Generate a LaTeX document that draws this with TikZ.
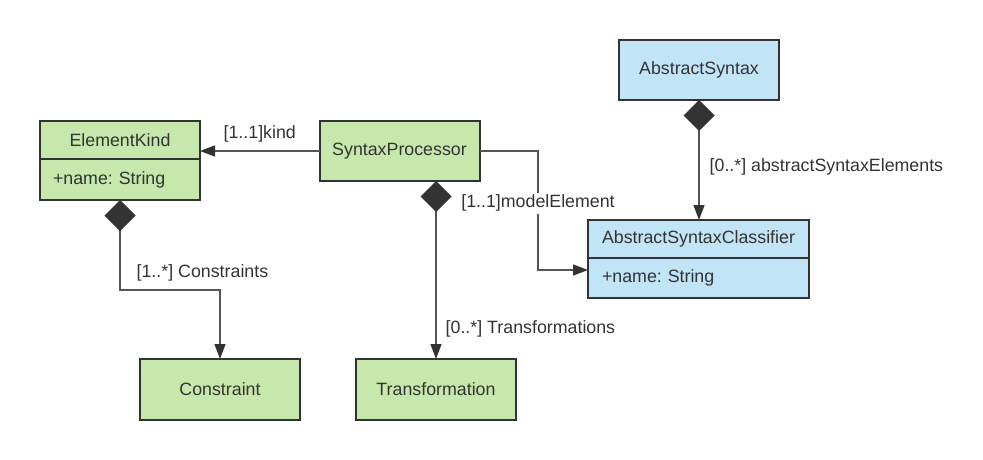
\documentclass[tikz,border=0pt]{standalone}
\usepackage{fontspec}
\setmainfont{Liberation Sans}
\usetikzlibrary{positioning, arrows.meta}

\definecolor{umlgreen}{HTML}{C7E8AC}
\definecolor{umlblue}{HTML}{C1E4F7}
\definecolor{umlline}{HTML}{333333}
\definecolor{umlwire}{HTML}{555555}

\begin{document}
\begin{tikzpicture}[x=1pt,y=-1pt,
  every node/.style={font=\fontsize{17.8}{21}\selectfont\frenchspacing, text=umlline},
  classbox/.style={draw=umlline, line width=2pt, minimum width=160pt, minimum height=60pt, inner sep=0pt, outer sep=0pt},
  headbox/.style={classbox, minimum height=38pt},
  attrbox/.style={classbox, minimum height=40pt, inner xsep=13pt, text width=134pt, align=left},
  assoc/.style={draw=umlwire, line width=1.3pt, -{Triangle[length=15pt,width=11pt,fill=umlline,color=umlline]}},
  compo/.style={draw=umlwire, line width=1.3pt, {Diamond[length=31pt,width=31pt,fill=umlline,color=umlline]}-{Triangle[length=15pt,width=11pt,fill=umlline,color=umlline]}},
  lbl/.style={inner sep=2pt}
]
\useasboundingbox (0,0) rectangle (983,460);

% classes
\node[classbox, fill=umlgreen] (proc) at (399.5,151) {SyntaxProcessor};
\node[headbox, fill=umlgreen] (kindhead) at (120,140) {ElementKind};
\node[attrbox, fill=umlgreen, minimum height=41pt, below=0pt of kindhead] (kindattr) {+name: String};
\node[classbox, fill=umlblue] (absyn) at (699,70) {AbstractSyntax};
\node[headbox, fill=umlblue, minimum width=221pt] (clshead) at (698.5,239) {AbstractSyntaxClassifier};
\node[attrbox, fill=umlblue, text width=193pt, inner xsep=14pt, below=0pt of clshead] (clsattr) {+name: String};
\node[classbox, fill=umlgreen, minimum height=61pt] (constr) at (220,389.5) {Constraint};
\node[classbox, fill=umlgreen, minimum height=61pt] (transf) at (436,389.5) {Transformation};

% associations
\coordinate (mebend) at (538,270);
\draw[assoc] (proc.west) -- node[lbl, above=6pt] {[1..1]kind} (proc.west -| kindhead.east);
\draw[assoc] (proc.east) -| node[lbl, fill=white, pos=0.72] {[1..1]modelElement} (mebend) -- (mebend -| clsattr.west);

% compositions
\draw[compo] (proc.south -| transf.north) -- node[lbl, pos=0.83, right=7pt] {[0..*] Transformations} (transf.north);
\draw[compo] (absyn.south) -- node[lbl, pos=0.56, right=8pt] {[0..*] abstractSyntaxElements} (absyn.south |- clshead.north);
\draw[compo] (kindattr.south) -- node[lbl, pos=0.81, right=14pt] {[1..*] Constraints} ++(0,90) -| (constr.north);
\end{tikzpicture}
\end{document}
